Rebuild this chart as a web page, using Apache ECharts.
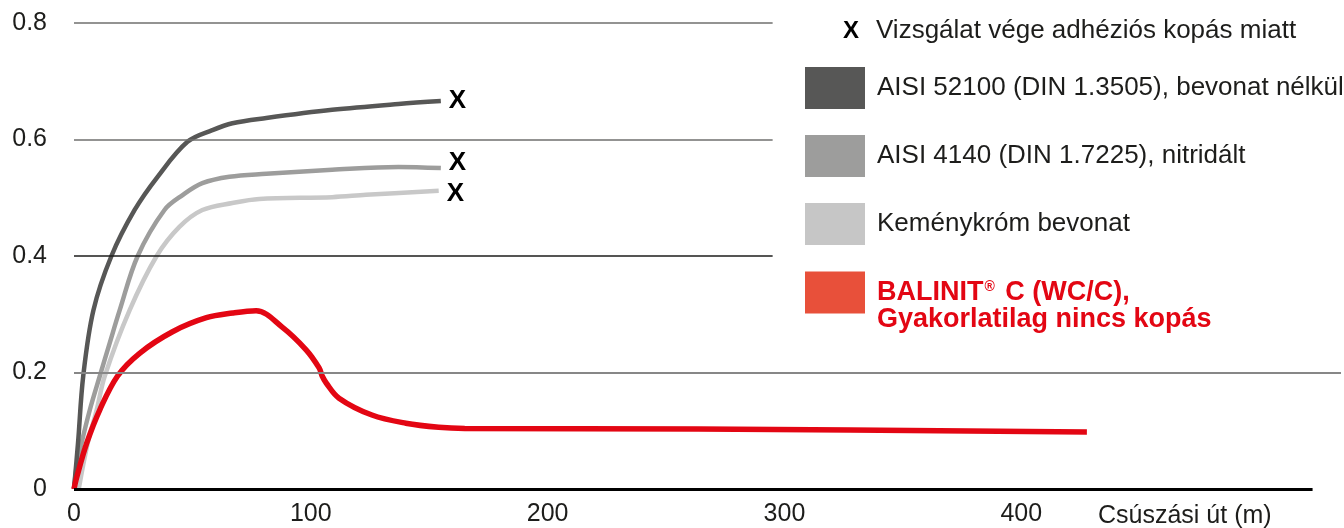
<!DOCTYPE html>
<html><head><meta charset="utf-8">
<script src="https://cdn.jsdelivr.net/npm/echarts@6/dist/echarts.min.js"></script>
<style>html,body{margin:0;padding:0;background:#fff}#c{width:1344px;height:528px}</style>
</head><body><div id="c"></div>
<script>
const FONT = '"Liberation Sans", Arial, Helvetica, sans-serif';

// ---- text ----
const xTicks = [0, 100, 200, 300, 400];
const yTicks = [0, 0.2, 0.4, 0.6, 0.8];
const xAxisTitle = 'Csúszási út (m)';
const endMark = 'X';
const endNote = 'Vizsgálat vége adhéziós kopás miatt';
const nameDark = 'AISI 52100 (DIN 1.3505), bevonat nélkül';
const nameMid = 'AISI 4140 (DIN 1.7225), nitridált';
const nameLight = 'Keménykróm bevonat';
const nameRed = 'BALINIT® C (WC/C), Gyakorlatilag nincs kopás';
const redLine1a = 'BALINIT';
const redSup = '®';
const redLine1b = ' C (WC/C),';
const redLine2 = 'Gyakorlatilag nincs kopás';

// ---- data: [sliding distance (m), value] ----
const aisi52100 = [[0,0],[1.7,0.079],[3.9,0.194],[8.2,0.307],[15.8,0.400],[25.6,0.479],[35.3,0.536],
  [47.9,0.596],[58.4,0.616],[66.9,0.628],[81.2,0.637],[109,0.651],[137,0.661],[154.9,0.666]];
const aisi4140 = [[0,0],[1.2,0.041],[3.2,0.079],[6.7,0.136],[10.9,0.194],[15.1,0.251],[19.3,0.307],
  [26.9,0.400],[38.2,0.479],[46,0.505],[54.2,0.525],[65.6,0.536],[81.2,0.541],[109,0.548],[137,0.553],[154.9,0.551]];
const hardChrome = [[2.0,0],[5.8,0.079],[9.6,0.136],[13,0.194],[23.5,0.307],[34.9,0.400],[44.5,0.450],
  [54.2,0.479],[66.9,0.491],[78.2,0.498],[109,0.501],[123.3,0.505],[154,0.512]];
const balinit = [[0,0],[1.2,0.021],[5.4,0.079],[10.9,0.136],[18.4,0.194],[27.7,0.233],[41.6,0.270],
  [55.9,0.294],[67,0.302],[76.9,0.306],[87.9,0.278],[98,0.239],[103.5,0.208],[104.8,0.194],[106.5,0.182],
  [111.9,0.156],[125.8,0.127],[140.1,0.113],[154,0.106],[165,0.104],[263.5,0.103],[427.7,0.098]];

const chart = echarts.init(document.getElementById('c'), null, {renderer: 'canvas'});

const X_MAX = 535;      // right edge of the plot area
const SHORT_END = 295;  // grid lines stop where the legend starts
const AXIS_END = 523;

function gl(y, xEnd, color, width) {
  return [{coord: [0, y], lineStyle: {color: color, width: width, type: 'solid'}}, {coord: [xEnd, y]}];
}

const endLabelBase = {show: true, formatter: endMark, fontFamily: FONT, fontSize: 26, fontWeight: 'bold', color: '#000', distance: 8};
const redText = {fontFamily: FONT, fontSize: 27, fontWeight: 'bold', color: '#e30613', lineHeight: 27};

const option = {
  animation: false,
  backgroundColor: '#fff',
  grid: {left: 74, right: 0, top: 23, bottom: 39},
  xAxis: {
    type: 'value', min: 0, max: X_MAX, interval: 100,
    axisLine: {show: false}, axisTick: {show: false}, splitLine: {show: false},
    axisLabel: {fontFamily: FONT, fontSize: 25, color: '#1d1d1b', margin: 13,
      formatter: v => xTicks.includes(v) ? String(v) : ''}
  },
  yAxis: {
    type: 'value', min: 0, max: 0.8, interval: 0.2,
    axisLine: {show: false}, axisTick: {show: false}, splitLine: {show: false},
    axisLabel: {fontFamily: FONT, fontSize: 25, color: '#1d1d1b', margin: 27,
      formatter: v => String(+(+v).toFixed(1))}
  },
  legend: [{
    orient: 'vertical', left: 805, top: 67, padding: 0, itemWidth: 60, itemHeight: 42, itemGap: 26,
    icon: 'rect', selectedMode: false,
    textStyle: {fontFamily: FONT, fontSize: 26, color: '#1d1d1b', padding: [0, 0, 0, 7]},
    data: [
      {name: nameDark, itemStyle: {color: '#575756', borderWidth: 0}},
      {name: nameMid, itemStyle: {color: '#9d9d9c', borderWidth: 0}},
      {name: nameLight, itemStyle: {color: '#c6c6c6', borderWidth: 0}}
    ]
  }, {
    orient: 'vertical', left: 805, top: 252, padding: 0, itemWidth: 60, itemHeight: 42,
    icon: 'rect', selectedMode: false,
    formatter: () => '\n{b|' + redLine1a + '}{s|' + redSup + '}{b|' + redLine1b + '}\n{b|' + redLine2 + '}',
    textStyle: Object.assign({}, redText, {padding: [0, 0, 0, 7],
      rich: {
        b: Object.assign({}, redText),
        s: {fontFamily: FONT, fontSize: 14, fontWeight: 'bold', color: '#e30613', lineHeight: 27, padding: [0, 3, 10, 1]}
      }}),
    data: [{name: nameRed, itemStyle: {color: '#e8503a', borderWidth: 0}}]
  }],
  graphic: [
    {type: 'text', x: 843, y: 31, style: {text: endMark, font: 'bold 24px ' + FONT, fill: '#000', verticalAlign: 'middle'}},
    {type: 'text', x: 876, y: 31, style: {text: endNote, font: '26px ' + FONT, fill: '#1d1d1b', verticalAlign: 'middle'}},
    {type: 'text', x: 1098, y: 516, style: {text: xAxisTitle, font: '25px ' + FONT, fill: '#1d1d1b', verticalAlign: 'middle'}}
  ],
  series: [
    {
      name: '_grid', type: 'line', data: [], z: 1, clip: false, silent: true,
      markLine: {
        silent: true, symbol: ['none', 'none'], label: {show: false}, animation: false,
        data: [
          gl(0.8, SHORT_END, '#6f6f6e', 1.5),
          gl(0.6, SHORT_END, '#6f6f6e', 1.5),
          gl(0.4, SHORT_END, '#1d1d1b', 1.5),
          gl(0.2, X_MAX, '#878787', 2),
          gl(0, AXIS_END, '#000', 3)
        ]
      }
    },
    {
      name: nameLight, type: 'line', data: hardChrome, showSymbol: false, smooth: 0.35, z: 3,
      lineStyle: {color: '#c8c8c8', width: 4.5}, itemStyle: {color: '#c8c8c8'},
      endLabel: Object.assign({}, endLabelBase, {offset: [0, 3]})
    },
    {
      name: nameMid, type: 'line', data: aisi4140, showSymbol: false, smooth: 0.35, z: 3,
      lineStyle: {color: '#9d9d9c', width: 4.5}, itemStyle: {color: '#9d9d9c'},
      endLabel: Object.assign({}, endLabelBase, {offset: [0, -5]})
    },
    {
      name: nameDark, type: 'line', data: aisi52100, showSymbol: false, smooth: 0.35, z: 3,
      lineStyle: {color: '#575756', width: 4.5}, itemStyle: {color: '#575756'},
      endLabel: Object.assign({}, endLabelBase, {offset: [0, 0]})
    },
    {
      name: nameRed, type: 'line', data: balinit, showSymbol: false, smooth: 0.35, z: 4,
      lineStyle: {color: '#e30613', width: 5.5}, itemStyle: {color: '#e30613'}
    }
  ]
};
chart.setOption(option);
</script></body></html>
